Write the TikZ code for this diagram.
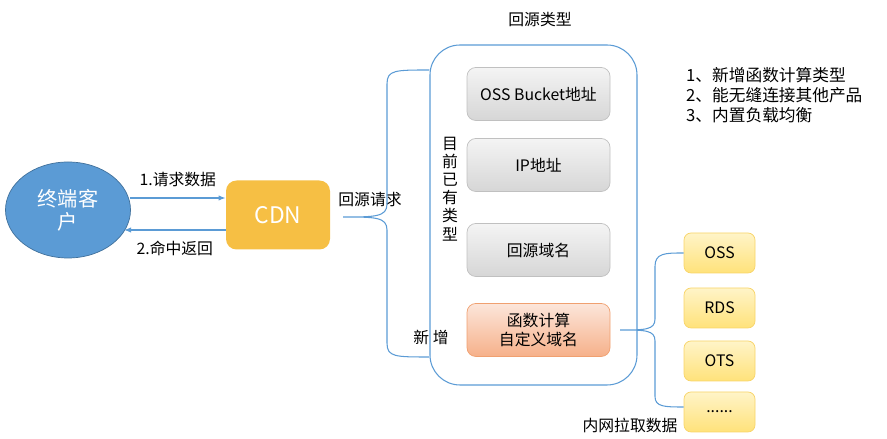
\documentclass[tikz,border=0pt]{standalone}
\usepackage{fontspec}
\setmainfont{Noto Sans CJK SC}
\usetikzlibrary{positioning,shapes.geometric,arrows.meta}

\definecolor{lineblue}{HTML}{5B9BD5}
\definecolor{darkblue}{HTML}{41719C}
\definecolor{cdnorange}{HTML}{F6BF44}
\definecolor{graytop}{HTML}{F4F4F4}
\definecolor{graybot}{HTML}{D6D6D6}
\definecolor{grayline}{HTML}{C0C0C0}
\definecolor{peachtop}{HTML}{FCE6DA}
\definecolor{peachbot}{HTML}{F6B08A}
\definecolor{peachline}{HTML}{F0A070}
\definecolor{yellowtop}{HTML}{FFF4C8}
\definecolor{yellowbot}{HTML}{FFE27A}
\definecolor{yellowline}{HTML}{F8D468}

\begin{document}
\begin{tikzpicture}[
    label/.style={font=\fontsize{9}{11}\selectfont},
    typebox/.style={rounded corners=5pt,draw=grayline,top color=graytop,
        bottom color=graybot,minimum width=2.86cm,minimum height=1.06cm,
        font=\fontsize{9}{11}\selectfont,align=center},
    newbox/.style={typebox,draw=peachline,top color=peachtop,bottom color=peachbot},
    storebox/.style={rounded corners=4pt,draw=yellowline,top color=yellowtop,
        bottom color=yellowbot,minimum width=1.42cm,minimum height=0.8cm,
        font=\fontsize{9}{11}\selectfont},
    link/.style={draw=lineblue,line width=0.6pt},
    ]
    \useasboundingbox (0,0) rectangle (17.74,8.78);

    % client and CDN
    \node[ellipse,fill=lineblue,draw=darkblue,minimum width=2.5cm,minimum height=1.92cm,
        text=white,align=center,font=\fontsize{11.5}{13}\selectfont]
        (client) at (1.36,4.58) {终端客\\户};
    \node[rounded corners=6pt,fill=cdnorange,minimum width=2.08cm,minimum height=1.38cm,
        text=white,font=\fontsize{13}{15}\selectfont] (cdn) at (5.56,4.48) {CDN};

    % request / response
    \coordinate (reqa) at (2.6,4.82);
    \coordinate (resb) at (2.48,4.18);
    \draw[link,-{Latex[length=4pt,width=3pt]}] (reqa)
        -- (cdn.west |- reqa) node[label,above=1mm,midway,black] {1.请求数据};
    \draw[link,-{Latex[length=4pt,width=3pt]}] (cdn.west |- resb)
        -- (resb) node[label,below=1mm,midway,black] {2.命中返回};
    \node[label] (back) at (7.4,4.78) {回源请求};

    % origin types
    \node[rounded corners=0.6cm,draw=lineblue,line width=0.6pt,minimum width=4.14cm,
        minimum height=6.8cm] (types) at (10.67,4.48) {};
    \node[label] (typestitle) at (10.8,8.38) {回源类型};
    \node[typebox] (bucket) at (10.77,6.9) {OSS Bucket地址};
    \node[typebox] (ip) at (10.77,5.48) {IP地址};
    \node[typebox] (domain) at (10.77,3.78) {回源域名};
    \node[newbox] (fc) at (10.77,2.18) {函数计算\\自定义域名};
    \node[label,align=center,inner sep=0pt,font=\fontsize{9}{10.3}\selectfont]
        (current) at (9.0,5.0) {目\\前\\已\\有\\类\\型};
    \node[label] (added) at (8.62,2.04) {新 增};

    % left brace
    \coordinate (lb) at (6.86,4.44);
    \draw[link] (types.west |- 0,7.38) .. controls (7.9,7.38) and (7.74,7.38) .. (7.74,7.1)
        -- (7.74,4.7) .. controls (7.74,4.44) and (7.5,4.44) .. (lb)
        .. controls (7.5,4.44) and (7.74,4.44) .. (7.74,4.18)
        -- (7.74,1.92) .. controls (7.74,1.64) and (7.9,1.64) .. (types.west |- 0,1.64);

    % storage
    \node[storebox] (oss) at (14.39,3.72) {OSS};
    \node[storebox] (rds) at (14.39,2.62) {RDS};
    \node[storebox] (ots) at (14.39,1.56) {OTS};
    \node[storebox] (more) at (14.39,0.54) {......};
    \node[label] (pull) at (12.6,0.28) {内网拉取数据};

    % right brace
    \coordinate (rb) at (12.4,2.18);
    \draw[link] (oss.west) .. controls (13.3,3.72) and (13.1,3.72) .. (13.1,3.45)
        -- (13.1,2.4) .. controls (13.1,2.18) and (12.9,2.18) .. (rb)
        .. controls (12.9,2.18) and (13.1,2.18) .. (13.1,1.96)
        -- (13.1,0.85) .. controls (13.1,0.64) and (13.3,0.64) .. (more.west |- 0,0.64);

    % notes
    \node[label,align=left,anchor=north west,font=\fontsize{9.5}{11.2}\selectfont]
        (notes) at (13.6,7.55) {1、新增函数计算类型\\2、能无缝连接其他产品\\3、内置负载均衡};
\end{tikzpicture}
\end{document}
